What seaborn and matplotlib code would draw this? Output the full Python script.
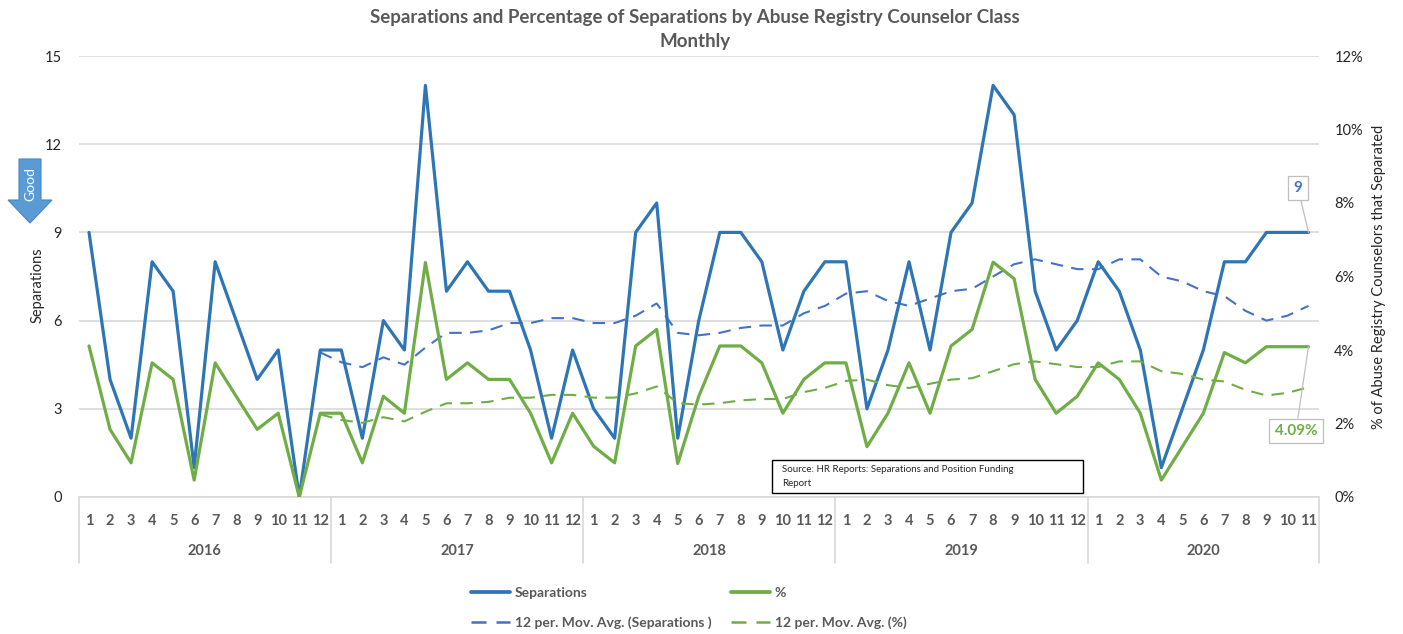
import numpy as np
import pandas as pd
import matplotlib
matplotlib.use("Agg")
import matplotlib.pyplot as plt
import matplotlib.transforms as mtransforms
from matplotlib.lines import Line2D
from matplotlib.patches import Rectangle, Polygon
from matplotlib.ticker import FuncFormatter
import seaborn as sns

# ---------------- data ----------------
years = ["2016", "2017", "2018", "2019", "2020"]
months_per_year = [12, 12, 12, 12, 11]

sep_2016 = [9, 4, 2, 8, 7, 1, 8, 6, 4, 5, 0, 5]
sep_2017 = [5, 2, 6, 5, 14, 7, 8, 7, 7, 5, 2, 5]
sep_2018 = [3, 2, 9, 10, 2, 6, 9, 9, 8, 5, 7, 8]
sep_2019 = [8, 3, 5, 8, 5, 9, 10, 14, 13, 7, 5, 6]
sep_2020 = [8, 7, 5, 1, 3, 5, 8, 8, 9, 9, 9]

pct_2016 = [4.11, 1.84, 0.93, 3.65, 3.20, 0.46, 3.65, 2.74, 1.84, 2.28, 0.00, 2.28]
pct_2017 = [2.28, 0.93, 2.74, 2.28, 6.38, 3.20, 3.65, 3.20, 3.20, 2.28, 0.93, 2.28]
pct_2018 = [1.38, 0.93, 4.11, 4.56, 0.91, 2.74, 4.11, 4.11, 3.65, 2.28, 3.20, 3.65]
pct_2019 = [3.65, 1.37, 2.28, 3.65, 2.28, 4.11, 4.56, 6.39, 5.94, 3.20, 2.28, 2.74]
pct_2020 = [3.65, 3.20, 2.28, 0.46, 1.37, 2.28, 3.93, 3.65, 4.09, 4.09, 4.09]

title_lines = ["Separations and Percentage of Separations by Abuse Registry Counselor Class",
               "Monthly"]
left_label = "Separations"
right_label = "% of Abuse Registry Counselors that Separated"
source_lines = ["Source: HR Reports: Separations and Position Funding", "Report"]

separations = sep_2016 + sep_2017 + sep_2018 + sep_2019 + sep_2020
percent = pct_2016 + pct_2017 + pct_2018 + pct_2019 + pct_2020
month_labels = [str(m) for n in months_per_year for m in range(1, n + 1)]

df = pd.DataFrame({"idx": np.arange(len(separations)),
                   "sep": separations, "pct": percent})
df["sep_ma"] = df["sep"].rolling(12).mean()   # 12-period moving average trendline
df["pct_ma"] = df["pct"].rolling(12).mean()

# ---------------- style ----------------
sns.set_style("white")
plt.rcParams["font.family"] = ["Lato", "DejaVu Sans"]

BLUE = "#2E75B6"
BLUE_MA = "#4472C4"
GREEN = "#70AD47"
GRAY_TXT = "#595959"
GRID = "#D9D9D9"
SOLID_LW = 2.3
DASH_LW = 1.5
DASH = (0, (6, 4))

W, H = 1403, 634
fig = plt.figure(figsize=(W / 100, H / 100), dpi=100)
L, R, B, T = 78.5, 1319, 497, 56
ax = fig.add_axes([L / W, 1 - B / H, (R - L) / W, (B - T) / H])
ax2 = ax.twinx()

n = len(separations)
ax.set_xlim(-0.5, n - 0.5)
ax.set_ylim(0, 15)
ax2.set_ylim(0, 12)

# gridlines
ax.set_yticks(np.arange(0, 16, 3))
ax.yaxis.grid(True, color=GRID, lw=1.2)
ax.set_axisbelow(True)
ax2.set_yticks(np.arange(0, 13, 2))
ax2.yaxis.set_major_formatter(FuncFormatter(lambda v, p: f"{v:.0f}%"))

for a in (ax, ax2):
    for s in a.spines.values():
        s.set_visible(False)

# lines
sns.lineplot(data=df, x="idx", y="sep", ax=ax, color=BLUE, lw=SOLID_LW, zorder=4)
sns.lineplot(data=df, x="idx", y="sep_ma", ax=ax, color=BLUE_MA, lw=DASH_LW,
             dashes=False, linestyle=DASH, zorder=3)
sns.lineplot(data=df, x="idx", y="pct", ax=ax2, color=GREEN, lw=SOLID_LW, zorder=4)
sns.lineplot(data=df, x="idx", y="pct_ma", ax=ax2, color=GREEN, lw=DASH_LW,
             dashes=False, linestyle=DASH, zorder=3)
ax.set_xlabel(""); ax.set_ylabel(""); ax2.set_xlabel(""); ax2.set_ylabel("")

# x axis (categories)
ax.set_xticks(np.arange(n))
ax.set_xticklabels(month_labels, fontsize=10.5, fontweight="bold", color=GRAY_TXT)
ax.tick_params(axis="x", length=0, pad=12)
ax.tick_params(axis="y", length=0, pad=12, labelsize=10.5, labelcolor="#262626")
ax2.tick_params(axis="y", length=0, pad=11, labelsize=10.5, labelcolor="#262626")
ax2.tick_params(axis="x", length=0)

trans = mtransforms.blended_transform_factory(ax.transData, ax.transAxes)
ax.plot([-0.5, n - 0.5], [0, 0], transform=trans, color=GRID, lw=1.2, clip_on=False, zorder=2)
bounds = np.concatenate([[0], np.cumsum(months_per_year)]) - 0.5
div_depth = -(563 - 497) / (B - T)
for b in bounds:
    ax.plot([b, b], [0, div_depth], transform=trans, color=GRID, lw=1.2, clip_on=False)
for i, yr in enumerate(years):
    cx = (bounds[i] + bounds[i + 1]) / 2
    ax.text(cx, -(551 - 497) / (B - T), yr, transform=trans, ha="center", va="center",
            fontsize=10.5, fontweight="bold", color=GRAY_TXT)

# data callouts
last = n - 1
ax.annotate(str(separations[-1]), xy=(last, separations[-1]), xycoords="data",
            xytext=(1298, H - 188), textcoords="figure pixels",
            ha="center", va="center", fontsize=11, fontweight="bold", color=BLUE_MA,
            bbox=dict(boxstyle="square,pad=0.35", fc="white", ec="#BFBFBF", lw=0.9),
            arrowprops=dict(arrowstyle="-", color="#BFBFBF", lw=0.9, shrinkA=0, shrinkB=0),
            zorder=6)
ax2.annotate(f"{percent[-1]:.2f}%", xy=(last, percent[-1]), xycoords="data",
             xytext=(1296, H - 431), textcoords="figure pixels",
             ha="center", va="center", fontsize=11, fontweight="bold", color=GREEN,
             bbox=dict(boxstyle="square,pad=0.35", fc="white", ec="#BFBFBF", lw=0.9),
             arrowprops=dict(arrowstyle="-", color="#BFBFBF", lw=0.9, shrinkA=0, shrinkB=0),
             zorder=6)

# title
fig.text(695 / W, 1 - 17 / H, title_lines[0], ha="center", va="center",
         fontsize=13.5, fontweight="bold", color=GRAY_TXT)
fig.text(695 / W, 1 - 42 / H, title_lines[1], ha="center", va="center",
         fontsize=13.5, fontweight="bold", color=GRAY_TXT)

# axis labels
fig.text(38 / W, 1 - 285 / H, left_label, rotation=90, ha="center", va="center",
         fontsize=10.5, color="#262626")
fig.text(1379 / W, 1 - 277 / H, right_label, rotation=90, ha="center", va="center",
         fontsize=10.5, color="#262626")

# "Good" arrow
def fp(x, y):
    return (x / W, 1 - y / H)
arrow_pts = [fp(19, 159), fp(41, 159), fp(41, 200), fp(52, 200), fp(30, 223),
             fp(8, 200), fp(19, 200)]
fig.add_artist(Polygon(arrow_pts, closed=True, transform=fig.transFigure,
                       fc="#5B9BD5", ec="#4A86C5", lw=0.8))
fig.text(30 / W, 1 - 184 / H, "Good", rotation=90, ha="center", va="center",
         fontsize=10, color="white")

# source box
fig.add_artist(Rectangle((772 / W, 1 - 493 / H), 311 / W, 33 / H, transform=fig.transFigure,
                         fc="white", ec="black", lw=1.0, zorder=5))
fig.text(782 / W, 1 - 469 / H, source_lines[0], ha="left", va="center", fontsize=7,
         color="#262626", zorder=6)
fig.text(782 / W, 1 - 484 / H, source_lines[1], ha="left", va="center", fontsize=7,
         color="#262626", zorder=6)

# legend
handles = [Line2D([], [], color=BLUE, lw=SOLID_LW + 0.4),
           Line2D([], [], color=BLUE_MA, lw=DASH_LW + 0.3, linestyle=DASH),
           Line2D([], [], color=GREEN, lw=SOLID_LW + 0.4),
           Line2D([], [], color=GREEN, lw=DASH_LW + 0.3, linestyle=DASH)]
labels = ["Separations", "12 per. Mov. Avg. (Separations )", "%", "12 per. Mov. Avg. (%)"]
leg = fig.legend(handles, labels, ncol=2, loc="center", bbox_to_anchor=(689 / W, 1 - 608 / H),
                 frameon=False, fontsize=10, handlelength=2.8, handletextpad=0.35,
                 columnspacing=1.4, labelspacing=1.2, borderpad=0)
for t in leg.get_texts():
    t.set_color(GRAY_TXT)
    t.set_fontweight("bold")

fig.savefig("out.png", dpi=100)
